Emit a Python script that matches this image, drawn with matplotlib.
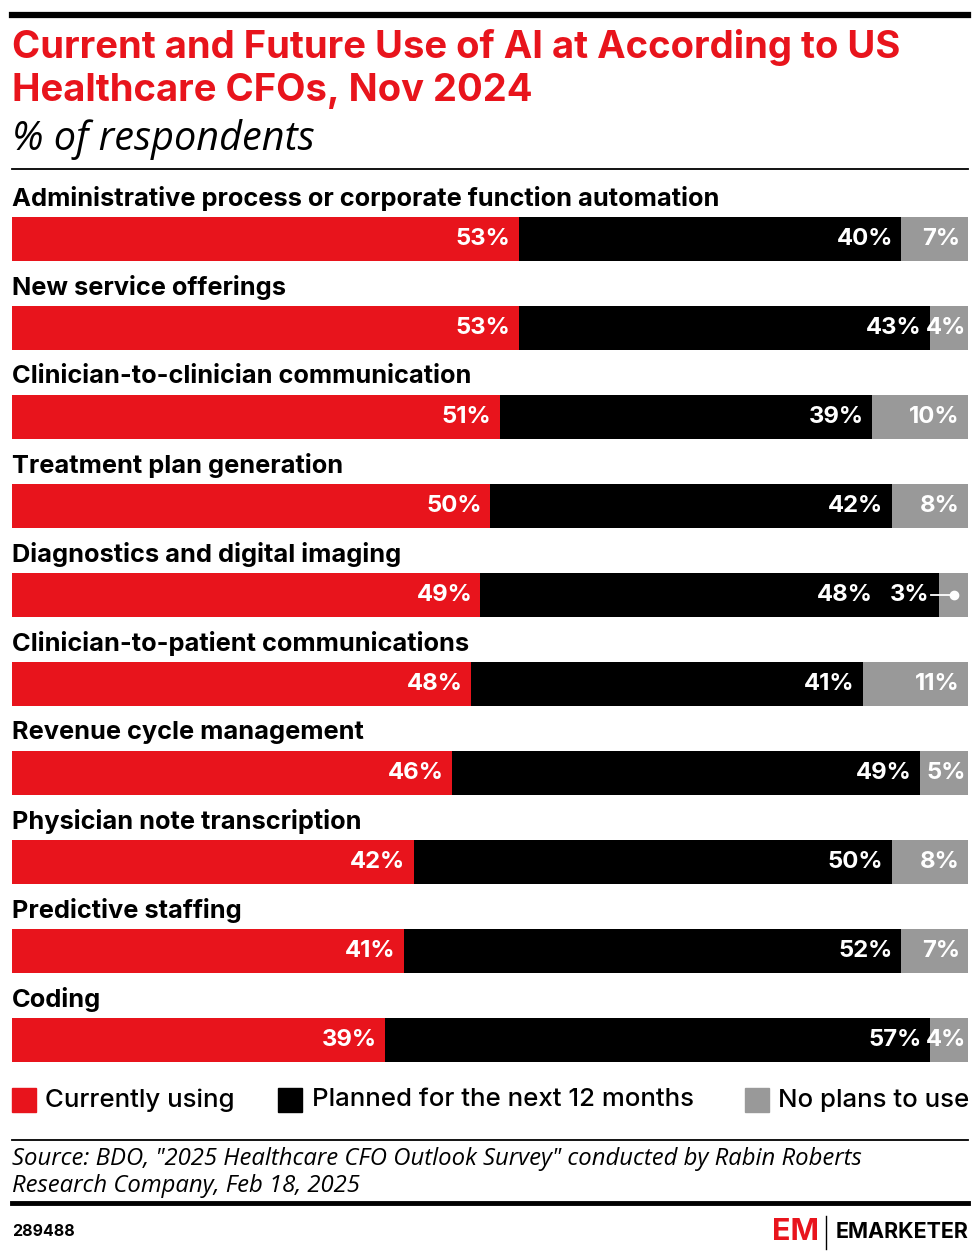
import numpy as np
import matplotlib.pyplot as plt
from matplotlib.patches import Rectangle
from matplotlib.lines import Line2D

W, H = 980, 1260

categories = [
    "Administrative process or corporate function automation",
    "New service offerings",
    "Clinician-to-clinician communication",
    "Treatment plan generation",
    "Diagnostics and digital imaging",
    "Clinician-to-patient communications",
    "Revenue cycle management",
    "Physician note transcription",
    "Predictive staffing",
    "Coding",
]
currently_using = [53, 53, 51, 50, 49, 48, 46, 42, 41, 39]
planned_12m = [40, 43, 39, 42, 48, 41, 49, 50, 52, 57]
no_plans = [7, 4, 10, 8, 3, 11, 5, 8, 7, 4]

series_names = ["Currently using", "Planned for the next 12 months", "No plans to use"]
colors = ["#E8141C", "#000000", "#999999"]

title = "Current and Future Use of AI at According to US\nHealthcare CFOs, Nov 2024"
subtitle = "% of respondents"
source = ('Source: BDO, "2025 Healthcare CFO Outlook Survey" conducted by Rabin Roberts\n'
          'Research Company, Feb 18, 2025')
chart_id = "289488"

FONT = "Inter"
IFONT = "Open Sans"


def fx(px):
    return px / W


def fy(py):
    return 1 - py / H


fig = plt.figure(figsize=(W / 100, H / 100), dpi=100)

# header rules and titles
fig.add_artist(Line2D([fx(12), fx(968)], [fy(14.5), fy(14.5)], color="black", lw=4.5))
fig.text(fx(12), fy(47), title.split("\n")[0], color="#E8141C", fontsize=27.5, fontweight="bold",
         family=FONT, va="center", ha="left")
fig.text(fx(12), fy(91), title.split("\n")[1], color="#E8141C", fontsize=27.5, fontweight="bold",
         family=FONT, va="center", ha="left")
fig.text(fx(12), fy(139), subtitle, color="black", fontsize=28.5, style="italic",
         family=IFONT, va="center", ha="left")
fig.add_artist(Line2D([fx(12), fx(968)], [fy(168.5), fy(168.5)], color="black", lw=1.3))

# bars
row_top, row_bottom = -0.75, 9.5
pitch = 89
c0 = 239
ax_top = c0 + row_top * pitch
ax_bot = c0 + row_bottom * pitch
ax = fig.add_axes([fx(12), fy(ax_bot), fx(968) - fx(12), (ax_bot - ax_top) / H])
ax.set_xlim(0, 100)
ax.set_ylim(row_bottom, row_top)
ax.axis("off")

y = np.arange(len(categories))
bar_h = 44 / pitch
series = [currently_using, planned_12m, no_plans]
lab_fs = 17.2
left = np.zeros(len(categories))
for k, (vals, col) in enumerate(zip(series, colors)):
    ax.barh(y, vals, left=left, height=bar_h, color=col, edgecolor="none")
    for i, v in enumerate(vals):
        end = left[i] + v
        shift = 0.85 if v >= 6 else 0.2
        # make room for a small neighbour's label
        if k + 1 < len(series) and series[k + 1][i] < 4:
            shift = 7.0
        if v >= 4:
            ax.text(end - shift, i, f"{v}%", color="white", fontsize=lab_fs, fontweight="bold",
                    family=FONT, ha="right", va="center")
        else:
            mid = left[i] + v / 2
            ax.plot([left[i] - 0.9, mid], [i, i], color="white", lw=1.3)
            ax.plot(mid, i, "o", color="white", ms=6)
            ax.text(left[i] - 1.0, i, f"{v}%", color="white", fontsize=lab_fs, fontweight="bold",
                    family=FONT, ha="right", va="center")
    left = left + np.array(vals)

for i, cat in enumerate(categories):
    ax.text(0, i - 0.45, cat, color="black", fontsize=18.3, fontweight="bold",
            family=FONT, ha="left", va="center", clip_on=False)

# legend
leg_y = 1100
leg_items = [(12, 45), (278, 312), (745, 778)]
for (sx, tx), name, col in zip(leg_items, series_names, colors):
    fig.add_artist(Rectangle((fx(sx), fy(leg_y + 12)), fx(24), 24 / H, color=col,
                             transform=fig.transFigure))
    fig.text(fx(tx), fy(leg_y), name, fontsize=18.6, fontweight="medium", family=FONT,
             va="center", ha="left")

# footer
fig.add_artist(Line2D([fx(12), fx(968)], [fy(1140), fy(1140)], color="black", lw=1.3))
fig.text(fx(12), fy(1159), source.split("\n")[0], fontsize=17.2, style="italic", family=IFONT,
         va="center", ha="left")
fig.text(fx(12), fy(1186), source.split("\n")[1], fontsize=17.2, style="italic", family=IFONT,
         va="center", ha="left")
fig.add_artist(Line2D([fx(12), fx(968)], [fy(1203), fy(1203)], color="black", lw=3.5))
fig.text(fx(12), fy(1232), chart_id, fontsize=11.5, fontweight="bold", family=FONT,
         va="center", ha="left")

# logo
fig.text(fx(772), fy(1232), "EM", fontsize=22, fontweight="bold", color="#E8141C",
         family=FONT, va="center", ha="left")
fig.add_artist(Line2D([fx(826), fx(826)], [fy(1216), fy(1249)], color="black", lw=1))
fig.text(fx(968), fy(1232), "EMARKETER", fontsize=15.5, fontweight="bold", color="black",
         family=FONT, va="center", ha="right")

fig.savefig("out.png", dpi=100)
